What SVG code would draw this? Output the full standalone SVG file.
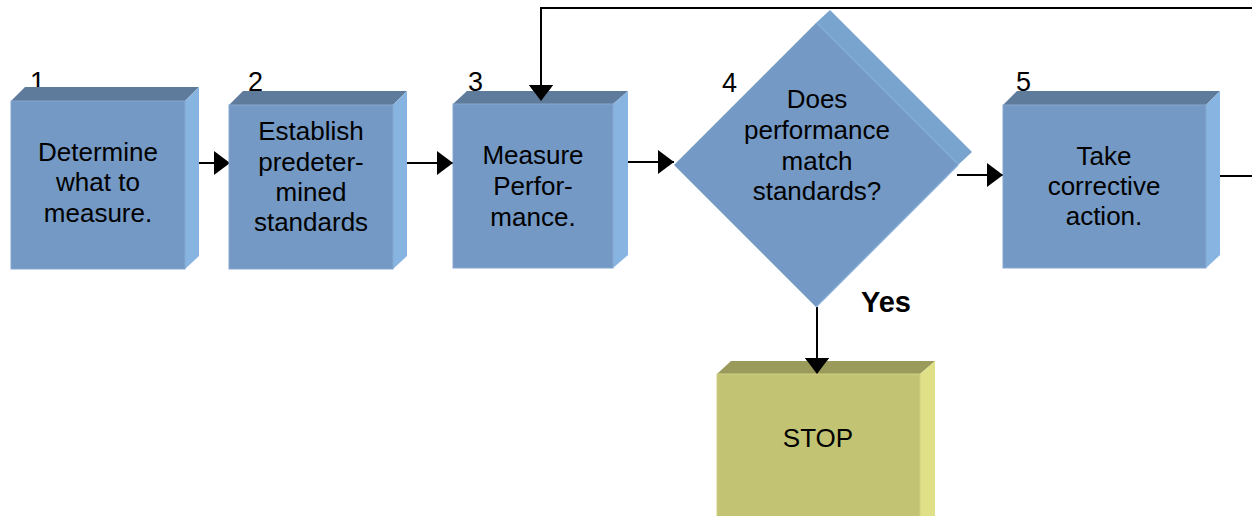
<svg xmlns="http://www.w3.org/2000/svg" width="1252" height="516" viewBox="0 0 1252 516">
  <defs>
    <style>
      .front { fill: #7399c4; stroke: #86a8d0; stroke-width: 1; }
      .top { fill: #5e7b9b; }
      .side { fill: #88b4e1; }
      .sfront { fill: #c3c473; stroke: #d0d084; stroke-width: 1; }
      .stop { fill: #9a9a5a; }
      .sside { fill: #e0e088; }
      .lbl { font-family: "Liberation Sans", Arial, sans-serif; font-size: 26px; fill: #000; text-anchor: middle; }
      .num { font-family: "Liberation Sans", Arial, sans-serif; font-size: 27px; fill: #000; }
      .yes { font-family: "Liberation Sans", Arial, sans-serif; font-size: 29px; font-weight: bold; fill: #000; }
      .wire { fill: none; stroke: #000; stroke-width: 2; }
    </style>
    <marker id="arrow" viewBox="0 0 16 24" refX="16" refY="12" markerWidth="16" markerHeight="24" markerUnits="userSpaceOnUse" orient="auto">
      <path d="M0,0 L16,12 L0,24 Z" fill="#000"/>
    </marker>
  </defs>

  <!-- step numbers (sit behind the boxes) -->
  <g id="numbers">
    <text class="num" x="30" y="91">1</text>
    <text class="num" x="248" y="91">2</text>
    <text class="num" x="468" y="91">3</text>
    <text class="num" x="722" y="92">4</text>
    <text class="num" x="1016" y="91">5</text>
  </g>

  <!-- connectors -->
  <g id="connectors">
    <line class="wire" x1="185" y1="163" x2="230" y2="163" marker-end="url(#arrow)"/>
    <line class="wire" x1="407" y1="163" x2="453" y2="163" marker-end="url(#arrow)"/>
    <line class="wire" x1="628" y1="162" x2="674" y2="162" marker-end="url(#arrow)"/>
    <line class="wire" x1="957" y1="175" x2="1003" y2="175" marker-end="url(#arrow)"/>
    <line class="wire" x1="817" y1="307" x2="817" y2="374" marker-end="url(#arrow)"/>
    <polyline class="wire" points="1220,176 1252,176"/>
    <polyline class="wire" points="1252,8 541,8 541,101" marker-end="url(#arrow)"/>
  </g>

  <!-- 1: Determine what to measure -->
  <g id="step1">
    <polygon class="top" points="11,101 25,87 199,87 185,101"/>
    <polygon class="side" points="185,101 199,87 199,256 185,269"/>
    <rect class="front" x="11" y="101" width="174" height="168"/>
    <text class="lbl" x="98" y="161">Determine</text>
    <text class="lbl" x="98" y="191">what to</text>
    <text class="lbl" x="98" y="222">measure.</text>
  </g>

  <!-- 2: Establish standards -->
  <g id="step2">
    <polygon class="top" points="229,105 243,91 407,91 393,105"/>
    <polygon class="side" points="393,105 407,91 407,256 393,269"/>
    <rect class="front" x="229" y="105" width="164" height="164"/>
    <text class="lbl" x="311" y="140">Establish</text>
    <text class="lbl" x="311" y="171">predeter-</text>
    <text class="lbl" x="311" y="201">mined</text>
    <text class="lbl" x="311" y="231">standards</text>
  </g>

  <!-- 3: Measure performance -->
  <g id="step3">
    <polygon class="top" points="453,104 467,91 628,91 613,104"/>
    <polygon class="side" points="613,104 628,91 628,255 613,268"/>
    <rect class="front" x="453" y="104" width="160" height="164"/>
    <text class="lbl" x="533" y="164">Measure</text>
    <text class="lbl" x="533" y="195">Perfor-</text>
    <text class="lbl" x="533" y="226">mance.</text>
  </g>

  <!-- 4: decision -->
  <g id="step4">
    <polygon fill="#79a4ce" points="816,23 830,10 972,152 958,165"/>
    <line x1="816" y1="23" x2="958" y2="165" stroke="#8cb4dc" stroke-width="1.5"/>
    <polygon fill="#7399c4" points="674,165 816,23 958,165 816,307"/>
    <line x1="958" y1="165" x2="816" y2="307" stroke="#86addb" stroke-width="1.5"/>
    <text class="lbl" x="817" y="108">Does</text>
    <text class="lbl" x="817" y="139">performance</text>
    <text class="lbl" x="817" y="170">match</text>
    <text class="lbl" x="817" y="200">standards?</text>
  </g>

  <!-- 5: Take corrective action -->
  <g id="step5">
    <polygon class="top" points="1003,105 1017,91 1220,91 1206,105"/>
    <polygon class="side" points="1206,105 1220,91 1220,255 1206,268"/>
    <rect class="front" x="1003" y="105" width="203" height="163"/>
    <text class="lbl" x="1104" y="165">Take</text>
    <text class="lbl" x="1104" y="195">corrective</text>
    <text class="lbl" x="1104" y="225">action.</text>
  </g>

  <text id="yes-label" class="yes" x="861" y="312">Yes</text>

  <!-- STOP -->
  <g id="stop">
    <polygon class="stop" points="717,374 731,361 935,361 920,374"/>
    <polygon class="sside" points="920,374 935,361 935,520 920,520"/>
    <rect class="sfront" x="717" y="374" width="203" height="150"/>
    <text class="lbl" x="818" y="447">STOP</text>
  </g>

  <!-- arrowheads that overlap box tops are drawn again on top -->
  <g id="arrow-tips">
    <path d="M529,85 L553,85 L541,101 Z" fill="#000"/>
    <path d="M805,358 L829,358 L817,374 Z" fill="#000"/>
  </g>
</svg>
